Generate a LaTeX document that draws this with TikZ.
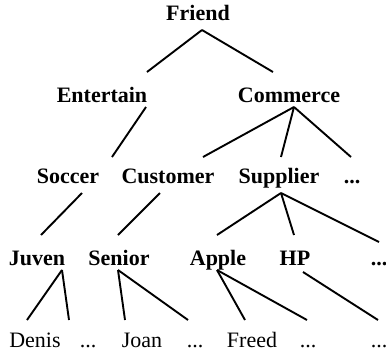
\documentclass[tikz,border=0pt]{standalone}
\usepackage{fontspec}
\setmainfont{Liberation Serif}
\usetikzlibrary{calc}
\begin{document}
\begin{tikzpicture}[x=1pt,y=-1pt,
  lbl/.style={anchor=base,inner sep=0pt,font=\fontsize{22}{26}\selectfont\bfseries},
  leaf/.style={anchor=base,inner sep=0pt,font=\fontsize{22}{26}\selectfont},
  edge/.style={line width=1.9pt}]
\useasboundingbox (0,0) rectangle (386,354);
\node[lbl] (friend) at (198,20) {Friend};
\node[lbl] (ent) at (102,102) {Entertain};
\node[lbl] (com) at (289,102) {Commerce};
\node[lbl] (soc) at (68,183) {Soccer};
\node[lbl] (cus) at (168,183) {Customer};
\node[lbl] (sup) at (279,183) {Supplier};
\node[lbl] (dthree) at (352,183) {...};
\node[lbl] (juv) at (37,265) {Juven};
\node[lbl] (sen) at (119,265) {Senior};
\node[lbl] (app) at (218,265) {Apple};
\node[lbl] (hp) at (295,265) {HP};
\node[lbl] (dfour) at (379,265) {...};
\node[leaf] (denis) at (35,347) {Denis};
\node[leaf] (da) at (88,347) {...};
\node[leaf] (joan) at (142,347) {Joan};
\node[leaf] (db) at (195,347) {...};
\node[leaf] (freed) at (252,347) {Freed};
\node[leaf] (dc) at (308,347) {...};
\node[leaf] (dd) at (379,347) {...};
\draw[edge] ($(friend.base)+(4,10)$) -- ($(ent.base)+(45,-30)$);
\draw[edge] ($(friend.base)+(4,10)$) -- ($(com.base)+(-16,-30)$);
\draw[edge] ($(ent.base)+(44,5)$) -- ($(soc.base)+(44,-26)$);
\draw[edge] ($(com.base)+(5,5)$) -- ($(cus.base)+(35,-26)$);
\draw[edge] ($(com.base)+(5,5)$) -- ($(sup.base)+(2,-26)$);
\draw[edge] ($(com.base)+(5,5)$) -- ($(dthree.base)+(-1,-26)$);
\draw[edge] ($(soc.base)+(14,10)$) -- ($(juv.base)+(4,-30)$);
\draw[edge] ($(cus.base)+(-8,10)$) -- ($(sen.base)+(-1,-30)$);
\draw[edge] ($(sup.base)+(2,10)$) -- ($(app.base)+(-1,-30)$);
\draw[edge] ($(sup.base)+(2,10)$) -- ($(hp.base)+(-1,-30)$);
\draw[edge] ($(sup.base)+(2,10)$) -- ($(dfour.base)+(0,-23)$);
\draw[edge] ($(juv.base)+(25,5)$) -- ($(denis.base)+(-8,-27)$);
\draw[edge] ($(juv.base)+(25,5)$) -- ($(da.base)+(-19,-27)$);
\draw[edge] ($(sen.base)+(-1,5)$) -- ($(joan.base)+(-17,-27)$);
\draw[edge] ($(sen.base)+(-1,5)$) -- ($(db.base)+(-7,-27)$);
\draw[edge] ($(app.base)+(-1,5)$) -- ($(freed.base)+(-7,-27)$);
\draw[edge] ($(app.base)+(-1,5)$) -- ($(dc.base)+(-1,-27)$);
\draw[edge] ($(hp.base)+(8,7)$) -- ($(dd.base)+(-1,-27)$);
\end{tikzpicture}
\end{document}
